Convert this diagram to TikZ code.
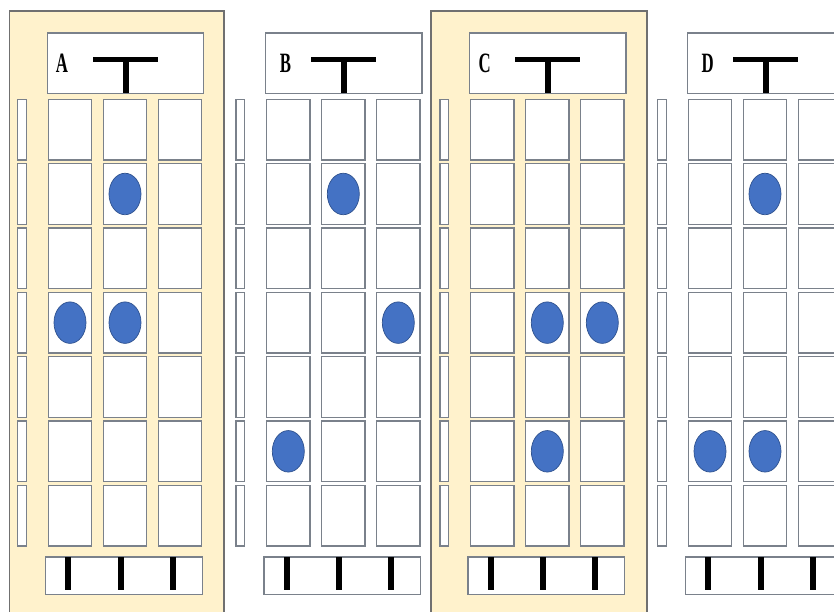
\documentclass[tikz,border=0pt]{standalone}
\usepackage{fontspec}
\setmainfont{Liberation Serif}
\usetikzlibrary{shapes.geometric}
\definecolor{panelfill}{HTML}{FFF2CC}
\definecolor{panelline}{HTML}{707070}
\definecolor{cellline}{HTML}{7A818B}
\definecolor{dotfill}{HTML}{4472C4}
\definecolor{dotline}{HTML}{2F528F}
\tikzset{
  panel/.style={fill=panelfill, draw=panelline, line width=1.2pt},
  boxbase/.style={draw=cellline, fill=white, line width=1.3pt, inner sep=0pt, outer sep=0pt, anchor=north west},
  cell/.style={boxbase, minimum width=43.4pt, minimum height=60.7pt},
  sidebar/.style={boxbase, minimum width=8.6pt, minimum height=60.7pt},
  header/.style={boxbase, minimum width=156.4pt, minimum height=60.3pt},
  footer/.style={boxbase, minimum width=156.6pt, minimum height=37.2pt},
  tbar/.style={fill=black, draw=none},
  dot/.style={ellipse, fill=dotfill, draw=dotline, line width=0.7pt, minimum width=32pt, minimum height=41.5pt, inner sep=0pt},
  letter/.style={font=\fontsize{28}{28}\selectfont\bfseries, text=black, inner sep=0pt}
}
\begin{document}
\begin{tikzpicture}[x=1pt, y=-1pt]
\clip (0,0) rectangle (834,611);
\fill[white] (0,0) rectangle (834,611);
% yellow panels
\draw[panel] (9.3,11) rectangle (224,625);
\draw[panel] (431,11) rectangle (647,625);
\foreach \p/\dx/\lx in {A/0/62, B/218.3/285.5, C/422.3/484.7, D/640/707.8} {
  % header
  \node[header] (\p-head) at (47.3+\dx, 33) {};
  \node[letter] (\p-lab) at (\lx, 63.5) {\scalebox{0.6}[1]{\p}};
  \fill[tbar] (93+\dx, 57.2) rectangle (158+\dx, 62);
  \fill[tbar] (122.5+\dx, 57.2) rectangle (128.5+\dx, 93.3);
  % grid
  \foreach \r in {1,...,7} {
    \node[sidebar] (\p-s\r) at (17.7+\dx, 99.3+64.33*\r-64.33) {};
    \foreach \c/\cx in {1/48.3, 2/103.3, 3/158.3} {
      \node[cell] (\p-r\r c\c) at (\cx+\dx, 99.3+64.33*\r-64.33) {};
    }
  }
  % footer
  \node[footer] (\p-foot) at (45.7+\dx, 557) {};
  \foreach \bx in {68.3, 120.7, 173} {
    \fill[tbar] (\bx-3+\dx, 557) rectangle (\bx+3+\dx, 590.3);
  }
}
% finger dots
\foreach \p/\c/\r in {A/2/2, A/1/4, A/2/4, B/2/2, B/3/4, B/1/6, C/2/4, C/3/4, C/2/6, D/2/2, D/1/6, D/2/6} {
  \node[dot] (\p-dot\c\r) at (\p-r\r c\c.center) {};
}
\end{tikzpicture}
\end{document}
